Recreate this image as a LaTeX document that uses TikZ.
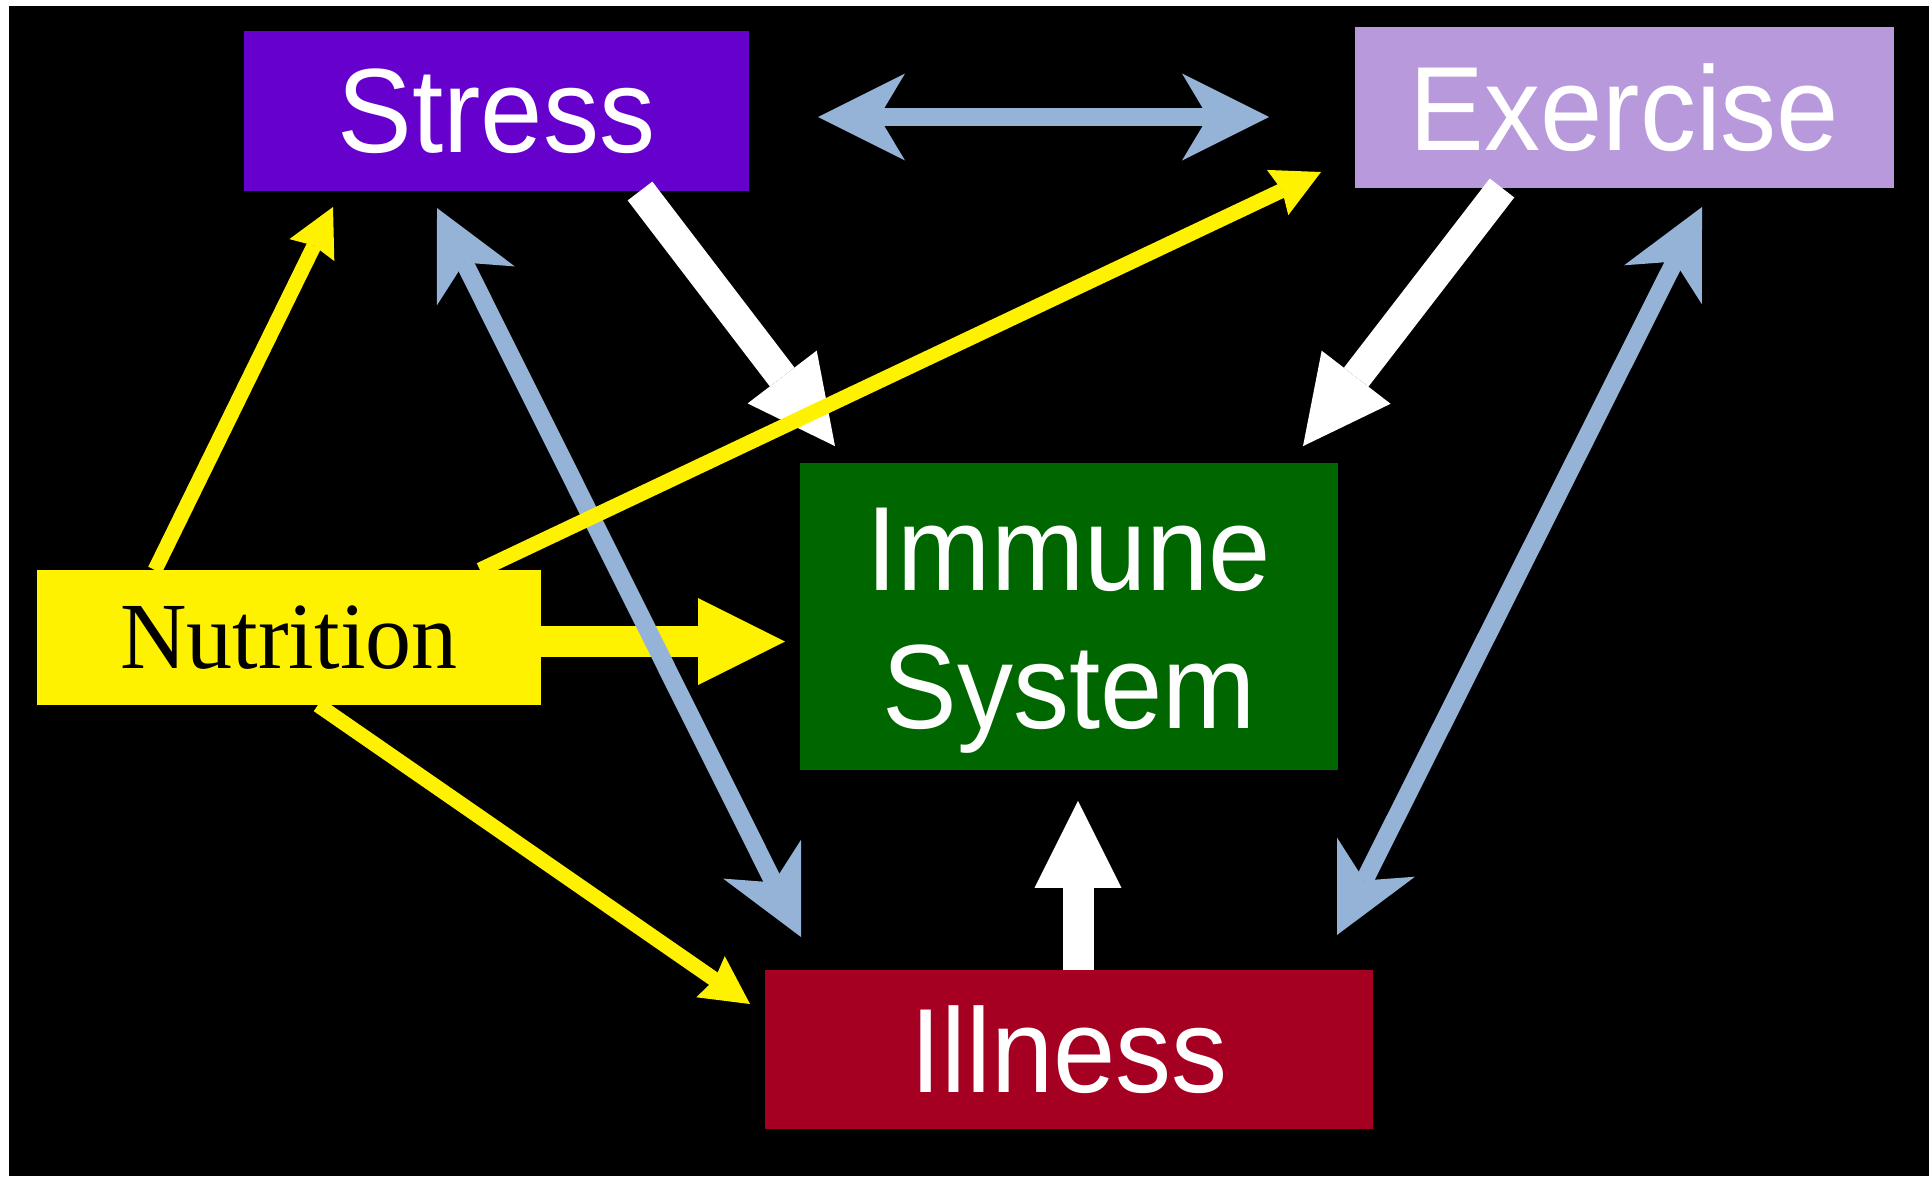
\documentclass[tikz,border=0pt]{standalone}
\usepackage{fontspec}
\usepackage{graphicx}
\usetikzlibrary{arrows.meta,calc}
\newfontfamily\sansf{Liberation Sans}
\newfontfamily\serff{Liberation Serif}
\newcommand\vstr[1]{\scalebox{1}[1.07]{#1}}
\definecolor{stresscol}{HTML}{6600CC}
\definecolor{exercol}{HTML}{B899DB}
\definecolor{immcol}{HTML}{006600}
\definecolor{illcol}{HTML}{A50021}
\definecolor{linkblue}{HTML}{95B3D7}
\begin{document}
\begin{tikzpicture}[x=1pt,y=-1pt,
  box/.style={inner sep=0pt, outer sep=0pt, text=white, font=\sansf\fontsize{112}{129}\selectfont},
  bigarrow/.style={line width=31pt, -{Triangle[length=87pt,width=87pt,line width=0pt]}},
  thinarrow/.style={color=yellow, line width=15pt, -{Stealth[length=48pt,width=50pt,inset=5pt,line width=0pt]}},
  bluelink/.style={color=linkblue, line width=18pt, {Stealth[length=87pt,width=87pt,inset=26pt,line width=0pt]}-{Stealth[length=87pt,width=87pt,inset=26pt,line width=0pt]}}]
\useasboundingbox (0,0) rectangle (1929,1176);
\fill[white] (0,0) rectangle (1929,1176);
\fill[black] (9,6) rectangle (1929,1176);

% boxes
\node[box, fill=stresscol, minimum width=505pt, minimum height=160pt] (stress) at (496.5,111) {\vstr{Stress}};
\node[box, fill=exercol, minimum width=539pt, minimum height=161pt] (exer) at (1624.5,107.5) {\vstr{Exercise}};
\node[box, fill=immcol, minimum width=538pt, minimum height=299pt] (imm) at (1069,616.5)
  {\vstr{\begin{tabular}{@{}c@{}}\rule{0pt}{119pt}Immune\\System\end{tabular}}};
\node[box, fill=illcol, minimum width=608pt, minimum height=159pt] (ill) at (1069,1049.5) {\vstr{Illness}};
\node[box, fill=yellow, text=black, font=\serff\fontsize{92}{110}\selectfont, minimum width=504pt, minimum height=135pt] (nut) at (289,637.5) {\scalebox{1}[1.03]{Nutrition}};

% thick arrows
\draw[bigarrow, yellow] ($(nut.east)+(0,4)$) -- ($(imm.west |- nut.east)+(-15,4)$);
\draw[bigarrow, white] ($(stress.south)+(143.5,0)$) -- ($(imm.north west)+(35,-17)$);
\draw[bigarrow, white] ($(exer.south)+(-122.5,0)$) -- ($(imm.north east)+(-35,-17)$);
\draw[bigarrow, white] ($(ill.north)+(9,0)$) -- ($(imm.south)+(9,31)$);

% blue two-way links
\draw[bluelink] ($(stress.east)+(69,6)$) -- ($(exer.west)+(-86,9.5)$);
\draw[bluelink] ($(ill.north west)+(36,-33)$) -- ($(stress.south west)+(193,17)$);
\draw[bluelink] ($(ill.north east)+(-36,-35)$) -- ($(exer.south east)+(-192,19)$);

% thin yellow arrows
\draw[thinarrow] ($(nut.north)+(-134,0)$) -- ($(stress.south west)+(89,16)$);
\draw[thinarrow] ($(nut.north)+(191,0)$) -- ($(exer.north west)+(-34,145)$);
\draw[thinarrow] ($(nut.south)+(29,0)$) -- ($(ill.north west)+(-15,34)$);
\end{tikzpicture}
\end{document}
